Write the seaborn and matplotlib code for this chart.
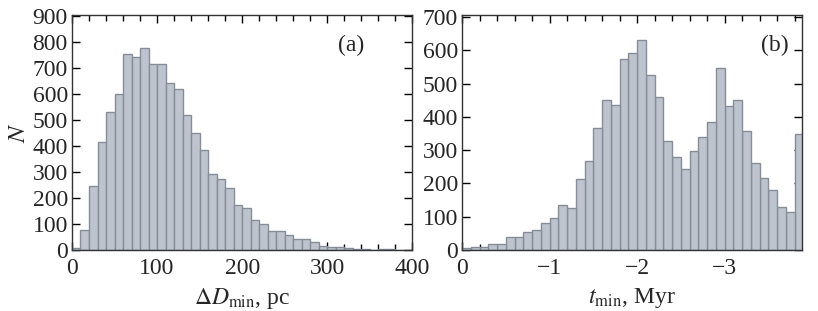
import numpy as np
import pandas as pd
import matplotlib
matplotlib.use("Agg")
import matplotlib.pyplot as plt
from matplotlib.ticker import MultipleLocator
import seaborn as sns

# Histogram counts
# (a) minimal distance, bins of 10 pc from 0 to 400
dmin_edges = np.arange(0, 410, 10)
dmin_counts = [7, 79, 248, 415, 531, 603, 757, 743, 779, 715,
               715, 645, 622, 522, 450, 387, 292, 272, 239, 175,
               162, 115, 100, 75, 74, 57, 41, 43, 31, 17,
               13, 10, 6, 4, 3, 1, 3, 3, 1, 0]

# (b) time of minimal distance, bins of 0.1 Myr from 0 back to -3.9
tmin_edges = np.round(-np.arange(0, 4.0, 0.1), 2)
tmin_counts = [5, 8, 10, 17, 17, 39, 39, 55, 60, 81,
               97, 136, 127, 213, 268, 366, 450, 436, 574, 592,
               632, 526, 461, 326, 278, 244, 296, 338, 384, 548,
               433, 451, 357, 262, 216, 181, 128, 115, 347]

sns.set_style("ticks")
plt.rcParams['font.family'] = ['Liberation Serif', 'DejaVu Serif']
plt.rcParams['mathtext.fontset'] = 'stix'

bar_fill = '#bec4ce'
bar_edge = '#858d99'

fig = plt.figure(figsize=(8.18, 3.11), dpi=100)
ax1 = fig.add_axes([0.088, 0.196, 0.416, 0.756])
ax2 = fig.add_axes([0.565, 0.196, 0.415, 0.756])

# left panel
df_d = pd.DataFrame({'d': dmin_edges[:-1] + 5, 'n': dmin_counts})
sns.histplot(data=df_d, x='d', weights='n', bins=list(dmin_edges), ax=ax1,
             color=bar_fill, edgecolor=bar_edge, linewidth=1.0, alpha=1)
ax1.set_xlim(0, 400)
ax1.set_ylim(0, 906)
ax1.xaxis.set_major_locator(MultipleLocator(100))
ax1.xaxis.set_minor_locator(MultipleLocator(20))
ax1.yaxis.set_major_locator(MultipleLocator(100))
ax1.set_xlabel(r'$\Delta D_{\rm min}$, pc', fontsize=17, labelpad=5)
ax1.set_ylabel(r'$N$', fontsize=18, labelpad=2)
ax1.text(0.82, 0.87, '(a)', transform=ax1.transAxes, fontsize=17,
         ha='center', va='center')

# right panel (time runs to the past)
df_t = pd.DataFrame({'t': tmin_edges[1:] + 0.05, 'n': tmin_counts})
sns.histplot(data=df_t, x='t', weights='n', bins=sorted(tmin_edges), ax=ax2,
             color=bar_fill, edgecolor=bar_edge, linewidth=1.0, alpha=1)
ax2.set_xlim(0, -3.88)
ax2.set_ylim(0, 706)
ax2.xaxis.set_minor_locator(MultipleLocator(0.2))
ax2.yaxis.set_major_locator(MultipleLocator(100))
ax2.set_xticks([0, -1, -2, -3])
ax2.set_xticklabels(['0', '\u22121', '\u22122', '\u22123'])
ax2.set_xlabel(r'$t_{\rm min}$, Myr', fontsize=17, labelpad=5)
ax2.set_ylabel('')
ax2.text(0.92, 0.87, '(b)', transform=ax2.transAxes, fontsize=17,
         ha='center', va='center')

for ax in (ax1, ax2):
    ax.tick_params(which='both', direction='in', top=True, right=True,
                   labelsize=17, color='black')
    ax.tick_params(axis='x', pad=6)
    ax.tick_params(axis='y', pad=3)
    ax.tick_params(which='major', length=6, width=1)
    ax.tick_params(which='minor', length=4, width=1)
    for s in ax.spines.values():
        s.set_color('#333333')
        s.set_linewidth(1.0)

fig.savefig('out.png', dpi=100)
